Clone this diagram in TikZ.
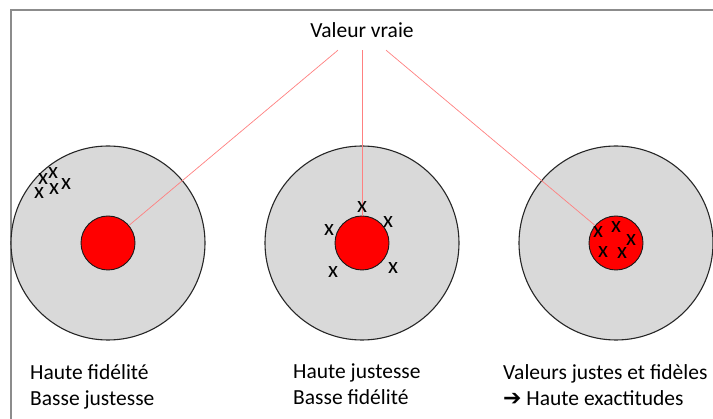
\documentclass[tikz,border=0pt]{standalone}
\usepackage{fontspec}
\setmainfont{Carlito}
\newfontfamily\arrowfont{DejaVu Sans}
\usetikzlibrary{positioning}
\tikzset{
    target diagram/.style = {x=1pt, y=-1pt},
    border/.style         = {draw=black!45, line width=1.5pt},
    target/.style         = {circle, draw=black!85, line width=1.1pt,
                             fill=black!15, minimum size=194pt,
                             inner sep=0pt},
    bull/.style           = {circle, draw=black!90, line width=0.9pt,
                             fill=red, minimum size=54pt, inner sep=0pt},
    shot/.style           = {inner sep=0pt,
                             font=\fontsize{23}{23}\selectfont},
    ray/.style            = {draw=red!50, line width=0.7pt},
    heading/.style        = {inner sep=0pt, minimum height=40pt,
                             font=\fontsize{21.5}{26}\selectfont},
    caption/.style        = {anchor=north west, align=left, inner sep=0pt,
                             font=\fontsize{21.5}{26}\selectfont}
}
\def\targetrow{243}
\def\captionrow{364}

\begin{document}
\begin{tikzpicture}[target diagram]
\useasboundingbox (0,0) rectangle (713,419);

% Page frame, cut at the right and bottom edges.
\draw[border] (11,419) -- (11,10) -- (713,10);

% Three targets, each with its red centre.
\node[target] (target1) at (108,\targetrow) {};
\node[target] (target2) at (362,\targetrow) {};
\node[target] (target3) at (616,\targetrow) {};
\node[bull] (bull1) at (target1.center) {};
\node[bull] (bull2) at (target2.center) {};
\node[bull] (bull3) at (target3.center) {};

% The true value points at every centre.
\node[heading] (truth) at (362,30) {Valeur vraie};
\draw[ray] (truth) -- (bull1);
\draw[ray] (truth) -- (bull2);
\draw[ray] (truth) -- (bull3);

% Measured values.
\foreach \i/\p in {1/{43,179}, 2/{53,173}, 3/{39,193}, 4/{54,189},
                   5/{66,184}}
    \node[shot] (shotA\i) at (\p) {x};
\foreach \i/\p in {1/{362,207}, 2/{329,230}, 3/{388,222}, 4/{333,272},
                   5/{393,268}}
    \node[shot] (shotB\i) at (\p) {x};
\foreach \i/\p in {1/{598,232}, 2/{616,227}, 3/{631,240}, 4/{603,252},
                   5/{622,253}}
    \node[shot] (shotC\i) at (\p) {x};

% Captions under the targets.
\node[caption] (cap1) at (30,\captionrow)
    {Haute fidélité\\Basse justesse};
\node[caption] (cap2) at (293,\captionrow)
    {Haute justesse\\Basse fidélité};
\node[caption] (cap3) at (503,\captionrow)
    {Valeurs justes et fidèles\\{\arrowfont\fontsize{22}{26}\selectfont ➔} Haute exactitudes};

\end{tikzpicture}
\end{document}
